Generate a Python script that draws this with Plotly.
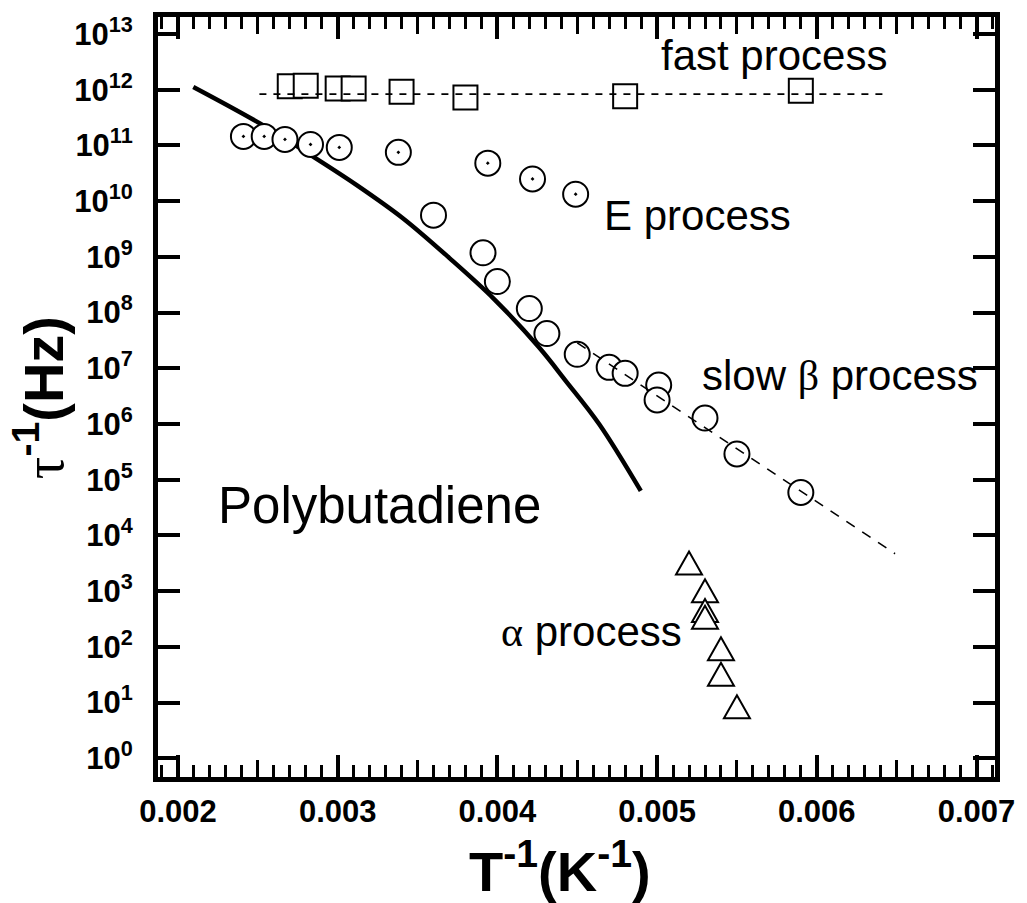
import plotly.graph_objects as go

# ---------------- data ----------------
# fast process (squares)
fast_x = [0.0027, 0.0028, 0.0030, 0.0031, 0.0034, 0.0038, 0.0048, 0.0059]
fast_y = [1.15e12, 1.17e12, 1.05e12, 1.05e12, 9.2e11, 7.2e11, 7.6e11, 9.6e11]
fast_fit_x = [0.00251, 0.00644]
fast_fit_y = [8.3e11, 8.3e11]

# E process (circles with dot)
e_x = [0.00241, 0.00254, 0.00267, 0.00283, 0.00301, 0.00338, 0.00394, 0.00422, 0.00449]
e_y = [1.45e11, 1.45e11, 1.28e11, 1.04e11, 9.2e10, 7.5e10, 4.8e10, 2.5e10, 1.33e10]

# slow beta process (open circles)
beta_x = [0.0036, 0.00391, 0.0040, 0.0042, 0.00431, 0.0045, 0.0047, 0.0048,
          0.00501, 0.0050, 0.0053, 0.0055, 0.0059]
beta_y = [5.6e9, 1.18e9, 3.6e8, 1.18e8, 4.2e7, 1.78e7, 1.04e7, 8.1e6,
          5.0e6, 2.7e6, 1.28e6, 2.9e5, 5.9e4]
beta_fit_x = [0.0045, 0.00649]
beta_fit_y = [2.86e7, 4.7e3]

# alpha process (triangles)
alpha_x = [0.0052, 0.0053, 0.0053, 0.0053, 0.0054, 0.0054, 0.0055]
alpha_y = [2.76e3, 8.8e2, 3.9e2, 2.95e2, 80, 28, 7.3]

# solid curve
curve_x = [0.002096, 0.002513, 0.002846, 0.003117, 0.003408, 0.0037,
           0.003981, 0.004263, 0.004429, 0.004638, 0.004898]
curve_y = [1.12e12, 2.48e11, 6.3e10, 1.96e10, 4.94e9, 9.5e8,
           1.73e8, 2.33e7, 5.9e6, 9.9e5, 6.3e4]

# ticks
x_tick_vals = [0.002, 0.003, 0.004, 0.005, 0.006, 0.007]
x_tick_text = ["0.002", "0.003", "0.004", "0.005", "0.006", "0.007"]
x_mid_vals = [0.0025, 0.0035, 0.0045, 0.0055, 0.0065]
y_exps = list(range(0, 14))
y_tick_vals = [10 ** n for n in y_exps]
y_tick_text = ["10<sup>%d</sup>" % n for n in y_exps]

SERIF = "Liberation Serif"
SANS = "Liberation Sans, Arial, sans-serif"

fig = go.Figure()

fig.add_trace(go.Scatter(x=curve_x, y=curve_y, mode="lines",
                         line=dict(color="black", width=4.5, shape="spline", smoothing=1.0)))
fig.add_trace(go.Scatter(x=e_x, y=e_y, mode="markers",
                         marker=dict(symbol="circle-dot", size=25, color="white",
                                     line=dict(color="black", width=2))))
fig.add_trace(go.Scatter(x=beta_x, y=beta_y, mode="markers",
                         marker=dict(symbol="circle", size=25, color="white",
                                     line=dict(color="black", width=2))))
fig.add_trace(go.Scatter(x=fast_x, y=fast_y, mode="markers",
                         marker=dict(symbol="square", size=24, color="white",
                                     line=dict(color="black", width=2))))
# alpha-process points (glyphs drawn as anchored triangle shapes below)
fig.add_trace(go.Scatter(x=alpha_x, y=alpha_y, mode="markers",
                         marker=dict(symbol="triangle-up", size=1, color="rgba(0,0,0,0)",
                                     line=dict(width=0))))
fig.add_trace(go.Scatter(x=fast_fit_x, y=fast_fit_y, mode="lines",
                         line=dict(color="black", width=1.6, dash="7px,7px")))
fig.add_trace(go.Scatter(x=beta_fit_x, y=beta_fit_y, mode="lines", xaxis="x2",
                         line=dict(color="black", width=1.6, dash="10px,9px")))

tri_path = "M -13,-8 L 13,-8 L 0,15 Z"
for ax_, ay_ in zip(alpha_x, alpha_y):
    fig.add_shape(type="path", xref="x", yref="y", xsizemode="pixel", ysizemode="pixel",
                  xanchor=ax_, yanchor=ay_, path=tri_path,
                  fillcolor="white", line=dict(color="black", width=2), layer="above")

x_range = [0.001875, 0.0071158]
fig.update_layout(
    width=1027, height=903,
    margin=dict(l=158, r=31, t=15, b=126),
    paper_bgcolor="white", plot_bgcolor="white",
    showlegend=False,
    font=dict(family=SANS, color="black"),
    xaxis=dict(range=x_range, tickmode="array", tickvals=x_tick_vals, ticktext=x_tick_text,
               ticks="inside", ticklen=22, tickwidth=4, tickcolor="black",
               showline=True, linewidth=5, linecolor="black", mirror="ticks",
               showgrid=False, zeroline=False,
               tickfont=dict(family=SANS, size=31, weight="bold", color="black"),
               ticklabelstandoff=3,
               minor=dict(tickmode="linear", tick0=0.002, dtick=0.0001, ticks="inside",
                          ticklen=12, tickwidth=3, tickcolor="black", showgrid=False)),
    xaxis2=dict(range=x_range, overlaying="x", anchor="y", side="bottom",
                tickmode="array", tickvals=x_mid_vals, ticks="inside", ticklen=17,
                tickwidth=3, tickcolor="black", showticklabels=False, mirror="ticks",
                showline=False, showgrid=False, zeroline=False),
    yaxis=dict(type="log", range=[-0.335, 13.304], tickmode="array",
               tickvals=y_tick_vals, ticktext=y_tick_text,
               ticks="inside", ticklen=22, tickwidth=4, tickcolor="black",
               showline=True, linewidth=5, linecolor="black", mirror="ticks",
               showgrid=False, zeroline=False,
               tickfont=dict(family=SANS, size=31, weight="bold", color="black"),
               ticklabelstandoff=14),
)

ann_font = dict(family=SANS, size=42, color="black")
labels = [
    ("fast process", 0.005731, 12.606),
    ("E process", 0.005256, 9.742),
    ("slow <span style='font-family:%s'>β</span> process" % SERIF, 0.006144, 6.879),
    ("<span style='font-family:%s'>α</span> process" % SERIF, 0.004588, 2.279),
]
for txt, xx, yy in labels:
    fig.add_annotation(x=xx, y=yy, xref="x", yref="y", text=txt, showarrow=False,
                       xanchor="center", yanchor="middle", font=ann_font)
fig.add_annotation(x=0.003263, y=4.543, xref="x", yref="y", text="Polybutadiene",
                   showarrow=False, xanchor="center", yanchor="middle",
                   font=dict(family=SANS, size=51, color="black"))

# axis titles
fig.add_annotation(x=(560 - 158) / 838, y=(777 - 868) / 762, xref="paper", yref="paper",
                   text="<b>T<sup>-1</sup>(K<sup>-1</sup>)</b>", showarrow=False,
                   xanchor="center", yanchor="middle",
                   font=dict(family=SANS, size=56, color="black"))
fig.add_annotation(x=(40 - 158) / 838, y=(777 - 397) / 762, xref="paper", yref="paper",
                   text="<span style='font-family:%s'>τ</span><b><sup>-1</sup>(Hz)</b>" % SERIF,
                   showarrow=False, textangle=-90,
                   xanchor="center", yanchor="middle",
                   font=dict(family=SANS, size=56, color="black"))

fig.write_html("out.html")
